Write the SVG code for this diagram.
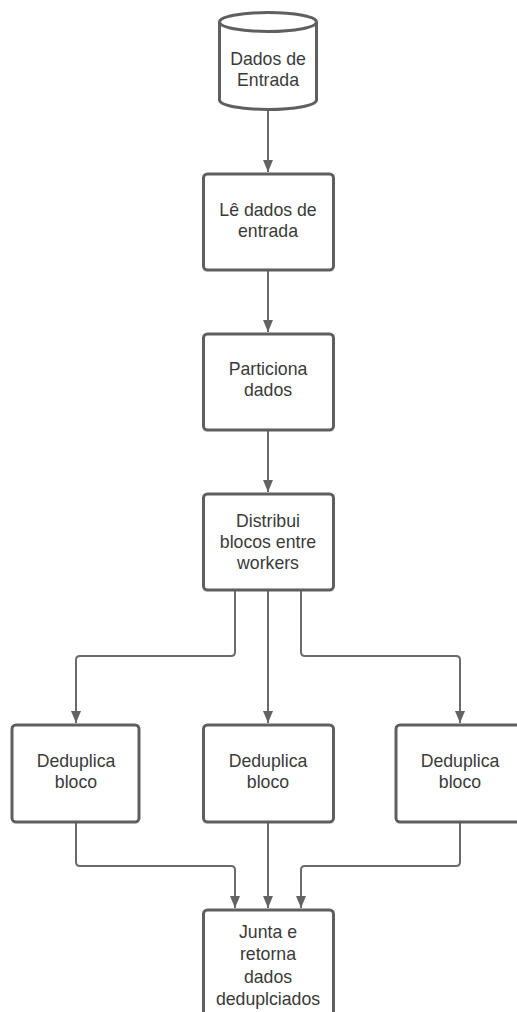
<svg xmlns="http://www.w3.org/2000/svg" width="517" height="1012" viewBox="0 0 517 1012">
<style>
.box{fill:#ffffff;stroke:#5f5f5f;stroke-width:3}
.t{font-family:"Liberation Sans",Arial,sans-serif;font-size:17.7px;fill:#3a3a3a;text-anchor:middle;dominant-baseline:central}
.c{fill:none;stroke:#6a6a6a;stroke-width:2}
</style>
<defs>
<marker id="arr" markerUnits="userSpaceOnUse" markerWidth="12" markerHeight="12" viewBox="0 0 12 12" refX="12" refY="6" orient="auto">
<path d="M0,1 L12,6 L0,11 Z" fill="#636363"/>
</marker>
</defs>
<rect width="517" height="1012" fill="#ffffff"/>
<g id="connectors">
<path class="c" d="M268,110 V172" marker-end="url(#arr)"/>
<path class="c" d="M268,270 V332" marker-end="url(#arr)"/>
<path class="c" d="M268,430 V492" marker-end="url(#arr)"/>
<path class="c" d="M235,590 V652 Q235,656 231,656 H80 Q76,656 76,660 V723" marker-end="url(#arr)"/>
<path class="c" d="M268,590 V723" marker-end="url(#arr)"/>
<path class="c" d="M301,590 V652 Q301,656 305,656 H456 Q460,656 460,660 V723" marker-end="url(#arr)"/>
<path class="c" d="M76,822 V862 Q76,866 80,866 H231 Q235,866 235,870 V908" marker-end="url(#arr)"/>
<path class="c" d="M268,822 V908" marker-end="url(#arr)"/>
<path class="c" d="M460,822 V862 Q460,866 456,866 H305 Q301,866 301,870 V908" marker-end="url(#arr)"/>
</g>
<g id="n-dados-entrada">
<path class="box" d="M219.5,22 A48.5,9.5 0 0 1 316.5,22 V100 A48.5,9.5 0 0 1 219.5,100 Z"/>
<path class="box" d="M219.5,22 A48.5,9.5 0 0 0 316.5,22" fill="none"/>
<text class="t" x="268" y="59">Dados de</text>
<text class="t" x="268" y="80">Entrada</text>
</g>
<g id="n-le-dados">
<rect class="box" x="203.5" y="174" width="130" height="96" rx="4"/>
<text class="t" x="268" y="210">Lê dados de</text>
<text class="t" x="268" y="231">entrada</text>
</g>
<g id="n-particiona">
<rect class="box" x="203.5" y="334" width="130" height="96" rx="4"/>
<text class="t" x="268" y="369">Particiona</text>
<text class="t" x="268" y="390">dados</text>
</g>
<g id="n-distribui">
<rect class="box" x="203.5" y="494" width="130" height="96" rx="4"/>
<text class="t" x="268" y="521">Distribui</text>
<text class="t" x="268" y="542">blocos entre</text>
<text class="t" x="268" y="563">workers</text>
</g>
<g id="n-dedup-1">
<rect class="box" x="12" y="725" width="127" height="97" rx="4"/>
<text class="t" x="76" y="761">Deduplica</text>
<text class="t" x="76" y="782">bloco</text>
</g>
<g id="n-dedup-2">
<rect class="box" x="203.5" y="725" width="130" height="97" rx="4"/>
<text class="t" x="268" y="761">Deduplica</text>
<text class="t" x="268" y="782">bloco</text>
</g>
<g id="n-dedup-3">
<rect class="box" x="396" y="725" width="128" height="97" rx="4"/>
<text class="t" x="460" y="761">Deduplica</text>
<text class="t" x="460" y="782">bloco</text>
</g>
<g id="n-junta">
<rect class="box" x="203.5" y="910" width="130" height="120" rx="4"/>
<text class="t" x="268" y="932">Junta e</text>
<text class="t" x="268" y="954">retorna</text>
<text class="t" x="268" y="977">dados</text>
<text class="t" x="268" y="999">deduplciados</text>
</g>
</svg>
